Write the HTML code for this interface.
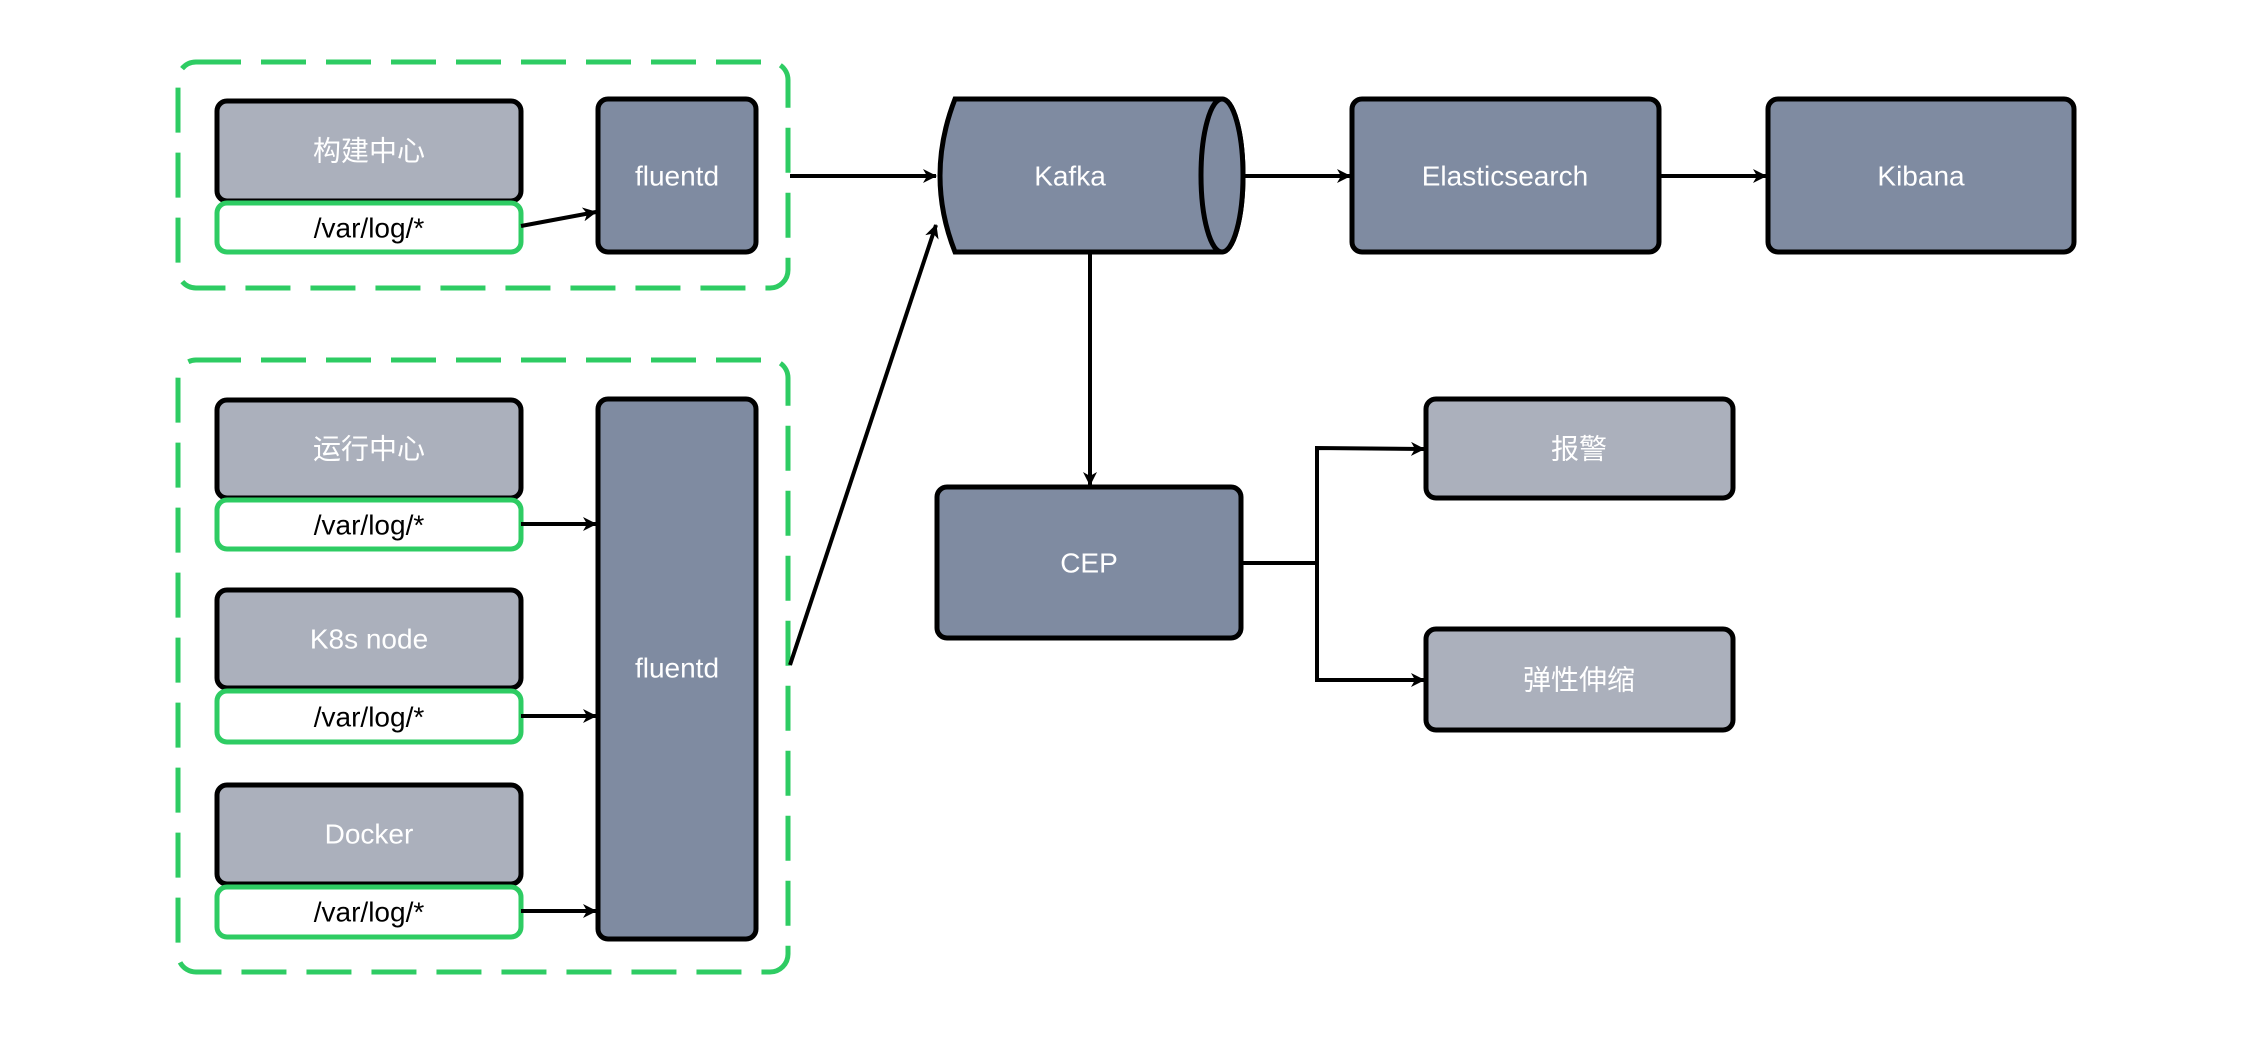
<!DOCTYPE html>
<html><head><meta charset="utf-8"><style>
body{margin:0;background:#fff;}
svg{display:block}
text{font-family:"Liberation Sans","Noto Sans CJK SC",sans-serif;font-size:28px;text-anchor:middle;dominant-baseline:central}
.w{fill:#fff}
.k{fill:#000}
</style></head><body>
<svg width="2246" height="1039" viewBox="0 0 2246 1039" xmlns="http://www.w3.org/2000/svg">
<defs><marker id="a" markerWidth="14" markerHeight="14" refX="13" refY="7" orient="auto" markerUnits="userSpaceOnUse"><path d="M0,0 L14,7 L0,14 L4,7 Z" fill="#000"/></marker></defs>
<g fill="none" stroke="#2ecc63" stroke-width="5" stroke-dasharray="45,20">
<rect x="178" y="62" width="610" height="226" rx="18"/>
<rect x="178" y="360" width="610" height="612" rx="18"/>
</g>
<g stroke="#000" stroke-width="5">
<rect x="217" y="101" width="304" height="100" rx="10" fill="#abb0bc"/>
<rect x="217" y="400" width="304" height="98" rx="10" fill="#abb0bc"/>
<rect x="217" y="590" width="304" height="98" rx="10" fill="#abb0bc"/>
<rect x="217" y="785" width="304" height="99" rx="10" fill="#abb0bc"/>
<rect x="598" y="99" width="158" height="153" rx="10" fill="#7f8ba1"/>
<rect x="598" y="399" width="158" height="540" rx="10" fill="#7f8ba1"/>
<rect x="1352" y="99" width="307" height="153" rx="10" fill="#7f8ba1"/>
<rect x="1768" y="99" width="306" height="153" rx="10" fill="#7f8ba1"/>
<rect x="937" y="487" width="304" height="151" rx="10" fill="#7f8ba1"/>
<rect x="1426" y="399" width="307" height="99" rx="10" fill="#abb0bc"/>
<rect x="1426" y="629" width="307" height="101" rx="10" fill="#abb0bc"/>
<path d="M955,99 L1222,99 A21,76.5 0 0 1 1222,252 L955,252 Q925,176 955,99 Z" fill="#7f8ba1"/>
<ellipse cx="1222" cy="175.5" rx="21" ry="76.5" fill="#7f8ba1"/>
</g>
<g fill="#fff" stroke="#2ecc63" stroke-width="5">
<rect x="217" y="203" width="304" height="49" rx="10"/>
<rect x="217" y="500" width="304" height="49" rx="10"/>
<rect x="217" y="691" width="304" height="51" rx="10"/>
<rect x="217" y="887" width="304" height="50" rx="10"/>
</g>
<g stroke="#000" stroke-width="4" fill="none" marker-end="url(#a)">
<line x1="521" y1="226" x2="596" y2="212"/>
<line x1="521" y1="524" x2="596" y2="524"/>
<line x1="521" y1="716" x2="596" y2="716"/>
<line x1="521" y1="911" x2="596" y2="911"/>
<line x1="790" y1="176" x2="936" y2="176"/>
<line x1="790" y1="665" x2="936" y2="225"/>
<line x1="1245" y1="176" x2="1350" y2="176"/>
<line x1="1661" y1="176" x2="1766" y2="176"/>
<line x1="1090" y1="252" x2="1090" y2="485"/>
<polyline points="1241,563 1317,563 1317,448 1424,449"/>
<polyline points="1317,563 1317,680 1424,680"/>
</g>
<text x="369" y="151" class="w">构建中心</text>
<text x="369" y="449" class="w">运行中心</text>
<text x="369" y="639" class="w">K8s node</text>
<text x="369" y="834" class="w">Docker</text>
<text x="369" y="228" class="k">/var/log/*</text>
<text x="369" y="525" class="k">/var/log/*</text>
<text x="369" y="717" class="k">/var/log/*</text>
<text x="369" y="912" class="k">/var/log/*</text>
<text x="677" y="176" class="w">fluentd</text>
<text x="677" y="668" class="w">fluentd</text>
<text x="1070" y="176" class="w">Kafka</text>
<text x="1505" y="176" class="w">Elasticsearch</text>
<text x="1921" y="176" class="w">Kibana</text>
<text x="1089" y="563" class="w">CEP</text>
<text x="1579" y="449" class="w">报警</text>
<text x="1579" y="680" class="w">弹性伸缩</text>
</svg>
</body></html>
